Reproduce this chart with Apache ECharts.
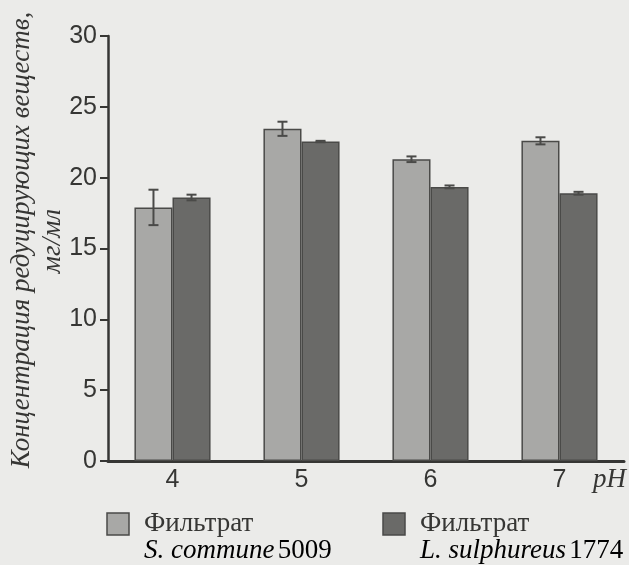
<!DOCTYPE html>
<html><head><meta charset="utf-8">
<script src="https://cdn.jsdelivr.net/npm/echarts@6/dist/echarts.min.js"></script>
<style>html,body{margin:0;padding:0;background:#ebebe9;}#c{width:629px;height:565px;}</style>
</head><body><div id="c"></div>
<script>
const categories = ['4', '5', '6', '7'];
const communeValues = [17.9, 23.45, 21.3, 22.6];
const communeErrors = [1.25, 0.5, 0.2, 0.25];
const sulphureusValues = [18.6, 22.55, 19.35, 18.9];
const sulphureusErrors = [0.2, 0.05, 0.1, 0.1];
const yTicks = [0, 5, 10, 15, 20, 25, 30];

const BAR_FRAC = 0.295;
const LIGHT = '#a8a8a6', DARK = '#6a6a68', EDGE = '#4a4a48', INK = '#363634';
const SANS = '"Liberation Sans Narrow", "Liberation Sans", sans-serif';
const SERIF = '"Liberation Serif", serif';

function errSeries(vals, errs, side) {
  return {
    type: 'custom', z: 5,
    data: vals.map((v, i) => [i, v, errs[i]]),
    renderItem: function (params, api) {
      const i = api.value(0), v = api.value(1), e = api.value(2);
      const w = api.size([1, 0])[0] * BAR_FRAC;
      const c = api.coord([i, v]);
      const x = c[0] + side * w / 2;
      const yHi = api.coord([i, v + e])[1], yLo = api.coord([i, v - e])[1];
      const cap = 5;
      const st = { stroke: EDGE, lineWidth: 2 };
      return { type: 'group', children: [
        { type: 'line', shape: { x1: x, y1: yHi, x2: x, y2: yLo }, style: st },
        { type: 'line', shape: { x1: x - cap, y1: yHi, x2: x + cap, y2: yHi }, style: st },
        { type: 'line', shape: { x1: x - cap, y1: yLo, x2: x + cap, y2: yLo }, style: st }
      ]};
    }
  };
}

const chart = echarts.init(document.getElementById('c'));
chart.setOption({
  backgroundColor: '#ebebe9',
  animation: false,
  grid: { left: 108, right: 5, top: 36, bottom: 104 },
  xAxis: {
    type: 'category', data: categories,
    axisLine: { lineStyle: { color: INK, width: 3 } },
    axisTick: { length: 8, lineStyle: { color: INK, width: 2 } },
    axisLabel: { color: INK, fontFamily: SANS, fontSize: 25, margin: 7 }
  },
  yAxis: {
    type: 'value', min: 0, max: 30, interval: 5,
    splitLine: { show: false },
    axisLine: { show: true, lineStyle: { color: INK, width: 2.5 } },
    axisTick: { show: true, length: 8, lineStyle: { color: INK, width: 2 } },
    axisLabel: { color: INK, fontFamily: SANS, fontSize: 25, margin: 11,
      formatter: v => yTicks.includes(v) ? String(v) : '' }
  },
  series: [
    { type: 'bar', data: communeValues, barWidth: (BAR_FRAC * 100) + '%', barGap: '0%',
      itemStyle: { color: LIGHT, borderColor: EDGE, borderWidth: 1.5 } },
    { type: 'bar', data: sulphureusValues, barWidth: (BAR_FRAC * 100) + '%', barGap: '0%',
      itemStyle: { color: DARK, borderColor: EDGE, borderWidth: 1.5 } },
    errSeries(communeValues, communeErrors, -1),
    errSeries(sulphureusValues, sulphureusErrors, 1)
  ],
  graphic: [
    { type: 'text', x: 22, y: 240, rotation: Math.PI / 2,
      style: { text: 'Концентрация редуцирующих веществ,', x: 0, y: 0, align: 'center', verticalAlign: 'middle',
        font: 'italic 27px ' + SERIF, fill: INK } },
    { type: 'text', x: 53, y: 241, rotation: Math.PI / 2,
      style: { text: 'мг/мл', x: 0, y: 0, align: 'center', verticalAlign: 'middle',
        font: 'italic 27px ' + SERIF, fill: INK } },
    { type: 'text', x: 593, y: 480,
      style: { text: 'pH', x: 0, y: 0, align: 'left', verticalAlign: 'middle',
        font: 'italic 27px ' + SERIF, fill: INK } },
    { type: 'rect', shape: { x: 107, y: 513, width: 22, height: 22 }, style: { fill: LIGHT, stroke: EDGE, lineWidth: 1.5 } },
    { type: 'rect', shape: { x: 383, y: 513, width: 22, height: 22 }, style: { fill: DARK, stroke: EDGE, lineWidth: 1.5 } },
    { type: 'text', x: 144, y: 524, style: { text: 'Фильтрат', verticalAlign: 'middle', font: '27px ' + SERIF, fill: INK } },
    { type: 'text', x: 420, y: 524, style: { text: 'Фильтрат', verticalAlign: 'middle', font: '27px ' + SERIF, fill: INK } },
    { type: 'text', x: 144, y: 551, style: { text: '{i|S. commune} {n|5009}', verticalAlign: 'middle',
        rich: { i: { font: 'italic 27px ' + SERIF, color: INK }, n: { font: '27px ' + SERIF, color: INK } } } },
    { type: 'text', x: 420, y: 551, style: { text: '{i|L. sulphureus} {n|1774}', verticalAlign: 'middle',
        rich: { i: { font: 'italic 27px ' + SERIF, color: INK }, n: { font: '27px ' + SERIF, color: INK } } } }
  ]
});
</script></body></html>
